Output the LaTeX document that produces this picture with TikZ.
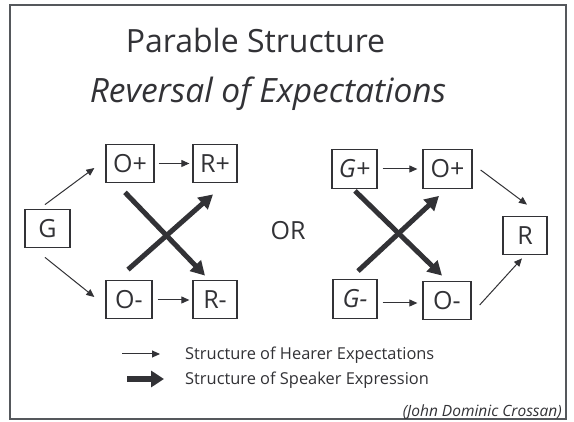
\documentclass[tikz,border=0pt]{standalone}
\usepackage{fontspec}
\setmainfont{Open Sans}
\usetikzlibrary{arrows.meta}
\definecolor{ink}{RGB}{50,50,54}
\definecolor{framec}{RGB}{85,88,92}
\tikzset{
  box/.style={draw=ink, line width=1.3pt, minimum height=38.5pt, minimum width=45pt, inner sep=0pt, text=ink, font=\fontsize{25}{25}\selectfont},
  thinarrow/.style={draw=ink, line width=1pt, -{Triangle[length=8pt,width=7pt]}},
  thickarrow/.style={draw=ink, line width=5pt, -{Triangle[length=14pt,width=15pt]}},
  lbl/.style={text=ink, inner sep=0pt}
}
\begin{document}
\begin{tikzpicture}[x=1pt,y=-1pt]
\useasboundingbox (0,0) rectangle (574,422);
\fill[white] (0,0) rectangle (574,422);
\draw[framec, line width=2pt] (10,5) rectangle (566,419);
% title
\node[lbl, anchor=base, font=\fontsize{32}{32}\selectfont] (t1) at (255.5,53) {Parable Structure};
\node[lbl, anchor=base, font=\fontsize{33.5}{33.5}\selectfont\itshape] (t2) at (268,103) {Reversal of Expectations};
% left diagram
\node[box] (G) at (47.5,228.5) {G};
\node[box, minimum width=48pt] (Op) at (130,163.5) {O+};
\node[box, minimum width=44pt] (Rp) at (215,163.5) {R+};
\node[box, minimum width=46pt] (Om) at (129,299.5) {O-};
\node[box, minimum width=44pt] (Rm) at (215,299.5) {R-};
\draw[thinarrow] ([shift={(-2.5,-4)}]G.north) -- ([shift={(-11,4.5)}]Op.west);
\draw[thinarrow] ([shift={(-2.5,9)}]G.south) -- ([shift={(-11,-2.5)}]Om.west);
\draw[thinarrow] ([shift={(4,0)}]Op.east) -- ([shift={(-3,0)}]Rp.west);
\draw[thinarrow] ([shift={(5,0.5)}]Om.east) -- ([shift={(-3,0.5)}]Rm.west);
\draw[thickarrow] ([shift={(-5,9)}]Op.south) -- ([shift={(-10,-4)}]Rm.north);
\draw[thickarrow] ([shift={(-1,-10)}]Om.north) -- ([shift={(-2,11)}]Rp.south);
% OR
\node[lbl, font=\fontsize{25}{25}\selectfont] (or) at (288,231) {OR};
% right diagram
\node[box] (Gp) at (354.5,169) {\itshape G+};
\node[box, minimum width=49pt] (Op2) at (447.5,169) {O+};
\node[box, minimum width=44pt] (R) at (525,235.5) {R};
\node[box, minimum width=44pt] (Gm) at (355,299) {\itshape G-};
\node[box, minimum width=48pt] (Om2) at (447,300.5) {O-};
\draw[thinarrow] ([shift={(5,0)}]Gp.east) -- ([shift={(-5,0)}]Op2.west);
\draw[thinarrow] ([shift={(5,4)}]Gm.east) -- ([shift={(-5,2.5)}]Om2.west);
\draw[thinarrow] ([shift={(8,1)}]Op2.east) -- ([shift={(2,-11)}]R.north);
\draw[thinarrow] ([shift={(8,4.5)}]Om2.east) -- ([shift={(-3,3)}]R.south);
\draw[thickarrow] ([shift={(0.5,2)}]Gp.south) -- ([shift={(-5,-5)}]Om2.north);
\draw[thickarrow] ([shift={(3,-8)}]Gm.north) -- ([shift={(-8.5,7)}]Op2.south);
% legend
\coordinate (l1a) at (122,354);
\coordinate (l1b) at (160,354);
\coordinate (l2a) at (127,379);
\coordinate (l2b) at (164,379);
\draw[thinarrow] (l1a) -- (l1b);
\draw[draw=ink, line width=6pt, -{Triangle[length=13pt,width=16pt]}] (l2a) -- (l2b);
\node[lbl, anchor=west, font=\fontsize{16.4}{16.4}\selectfont] (h1) at (185,355) {Structure of Hearer Expectations};
\node[lbl, anchor=west, font=\fontsize{16.4}{16.4}\selectfont] (h2) at (185,380) {Structure of Speaker Expression};
\node[lbl, anchor=east, font=\fontsize{15.5}{15.5}\selectfont\itshape] (cr) at (562,412) {(John Dominic Crossan)};
\end{tikzpicture}
\end{document}
